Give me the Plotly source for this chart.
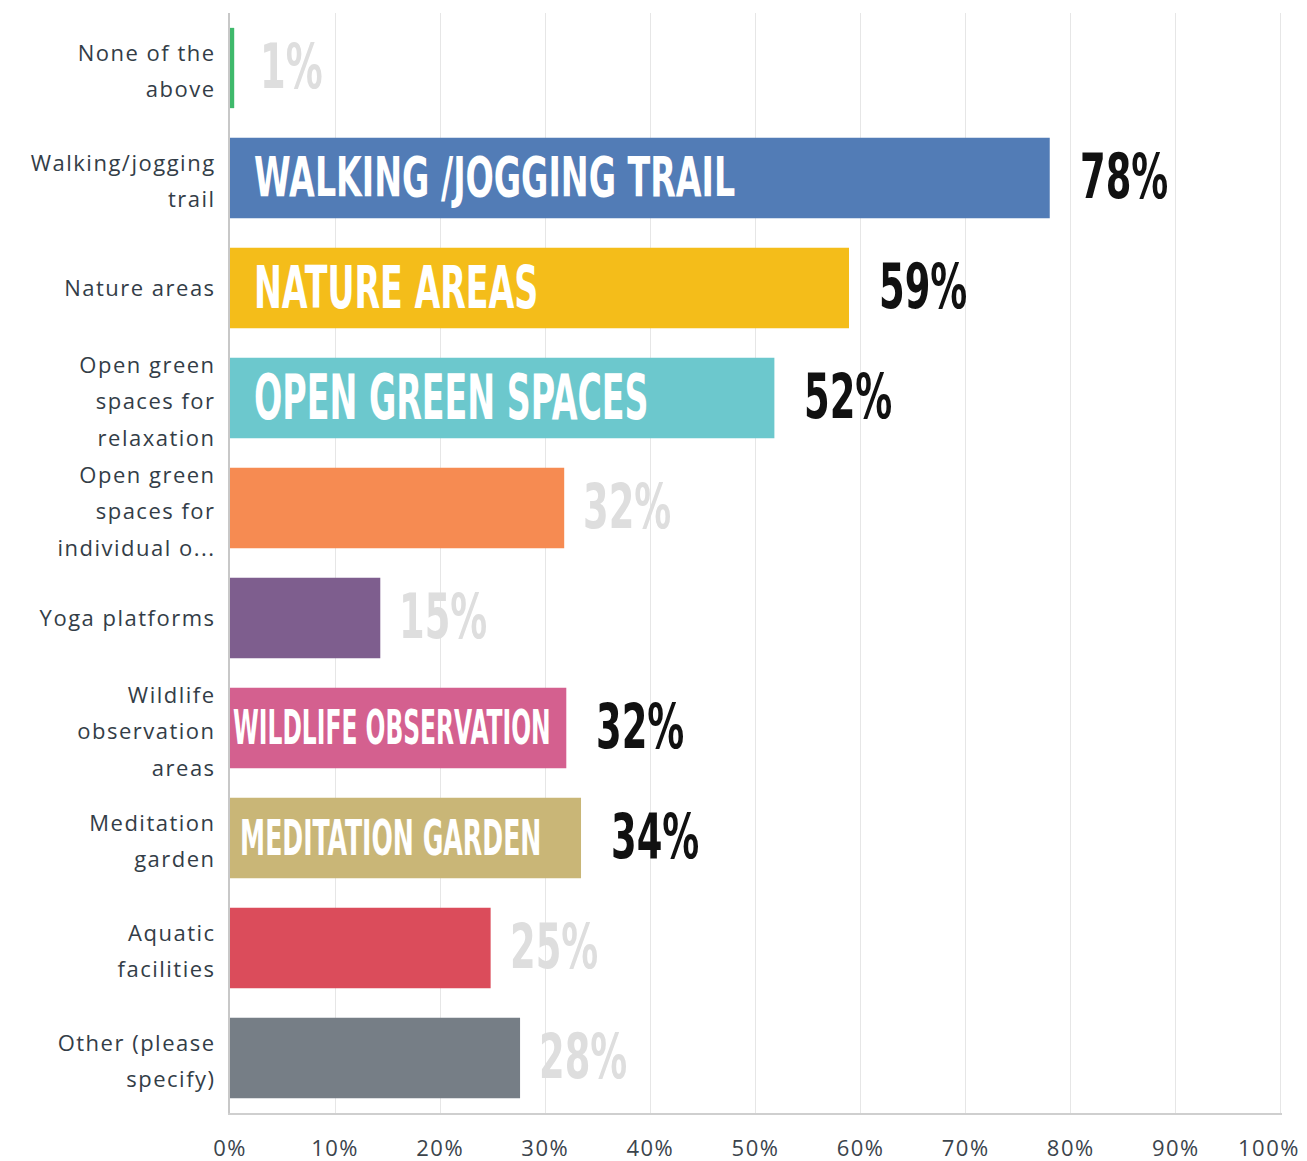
import json
import plotly.graph_objects as go

# Survey answers, top to bottom
categories = [
    "None of the<br>above",
    "Walking/jogging<br>trail",
    "Nature areas",
    "Open green<br>spaces for<br>relaxation",
    "Open green<br>spaces for<br>individual o...",
    "Yoga platforms",
    "Wildlife<br>observation<br>areas",
    "Meditation<br>garden",
    "Aquatic<br>facilities",
    "Other (please<br>specify)",
]
values = [0.4, 78.0, 58.9, 51.8, 31.8, 14.3, 32.0, 33.4, 24.8, 27.6]
value_labels = ["1%", "78%", "59%", "52%", "32%", "15%", "32%", "34%", "25%", "28%"]
bar_labels = ["", "WALKING /JOGGING TRAIL", "NATURE AREAS", "OPEN GREEN SPACES", "",
              "", "WILDLIFE OBSERVATION", "MEDITATION GARDEN", "", ""]
highlighted = [False, True, True, True, False, False, True, True, False, False]
bar_colors = ["#3fb96b", "#527cb6", "#f4bd1a", "#6cc8cd", "#f68b52",
              "#7e5e8e", "#d4608f", "#c9b677", "#db4c5b", "#767e86"]
x_ticks = [0, 10, 20, 30, 40, 50, 60, 70, 80, 90, 100]

# styling of the big condensed labels inside the bars: (font size, left offset, vertical stretch)
inside_style = {
    "WALKING /JOGGING TRAIL": (37, 22, 1.48),
    "NATURE AREAS": (37, 22, 1.6),
    "OPEN GREEN SPACES": (37, 22, 1.68),
    "WILDLIFE OBSERVATION": (26, 1, 1.84),
    "MEDITATION GARDEN": (28, 8, 1.8),
}

COND_FONT = "DejaVu Sans Condensed, Arial Narrow, sans-serif"

fig = go.Figure(go.Bar(
    x=values,
    y=categories,
    orientation="h",
    marker=dict(color=bar_colors, line=dict(width=0)),
    hoverinfo="skip",
))

annotations = []
stretch = []  # vertical stretch per annotation, applied in the browser

# big white labels inside the highlighted bars
for cat, label in zip(categories, bar_labels):
    if not label:
        continue
    size, shift, sy = inside_style[label]
    annotations.append(dict(
        x=0, y=cat, xref="x", yref="y", text=label, showarrow=False,
        xanchor="left", xshift=shift, yshift=1,
        font=dict(family=COND_FONT, size=size, color="white", weight="bold"),
    ))
    stretch.append(sy)

# percentage labels to the right of each bar
for cat, val, lab, hi in zip(categories, values, value_labels, highlighted):
    annotations.append(dict(
        x=val, y=cat, xref="x", yref="y", text=lab, showarrow=False,
        xanchor="left", xshift=28 if hi else (24 if val < 1 else 17), yshift=1,
        font=dict(family=COND_FONT, size=41,
                  color="#111111" if hi else "#dedede", weight="bold"),
    ))
    stretch.append(1.5)

fig.update_layout(
    template="none",
    width=1307, height=1161,
    margin=dict(l=230, r=25, t=13, b=48),
    paper_bgcolor="white",
    plot_bgcolor="white",
    showlegend=False,
    bargap=0.27,
    annotations=annotations,
)
fig.update_xaxes(
    range=[0, 100.1], tickvals=x_ticks, ticktext=[f"{t}%" for t in x_ticks],
    showgrid=True, gridcolor="#e6e6e6", gridwidth=1,
    showline=True, linecolor="#cfcfcf", linewidth=2,
    zeroline=False, ticks="", ticklabelstandoff=15,
    ticklabeloverflow="allow",
    tickfont=dict(family="Open Sans", size=22, color="#3b444c"),
    automargin=False, fixedrange=True,
)
fig.update_yaxes(
    autorange="reversed",
    showgrid=False, showline=True, linecolor="#c8c8c8", linewidth=2,
    zeroline=False, ticks="", ticklabelstandoff=8,
    tickfont=dict(family="Open Sans", size=22, color="#333d47"),
    automargin=False, fixedrange=True,
)

post_script = """
document.body.style.margin = '0';
var s = %s;
document.querySelectorAll('g.annotation').forEach(function (g, i) {
  var t = g.querySelector('text.annotation-text');
  if (!t) return;
  t.style.transformBox = 'fill-box';
  t.style.transformOrigin = 'center';
  t.style.transform = 'scaleY(' + s[i] + ')';
});
// looser tracking and line spacing for the axis labels
document.querySelectorAll('g.xtick text, g.ytick text').forEach(function (t) {
  t.style.letterSpacing = '1.5px';
});
document.querySelectorAll('g.xtick text').forEach(function (t) {
  if (t.textContent === '100%%') {
    t.setAttribute('x', (parseFloat(t.getAttribute('x') || 0) - 12));
  }
});
document.querySelectorAll('g.ytick text').forEach(function (t) {
  var lines = t.querySelectorAll('tspan.line');
  var n = lines.length;
  if (n < 2) return;
  lines.forEach(function (l, k) {
    l.setAttribute('dy', (k * 1.64 - (n - 1) * 0.17 + 0.17) + 'em');
  });
});
""" % json.dumps(stretch)

fig.write_html("out.html", post_script=post_script, config={"displayModeBar": False})
